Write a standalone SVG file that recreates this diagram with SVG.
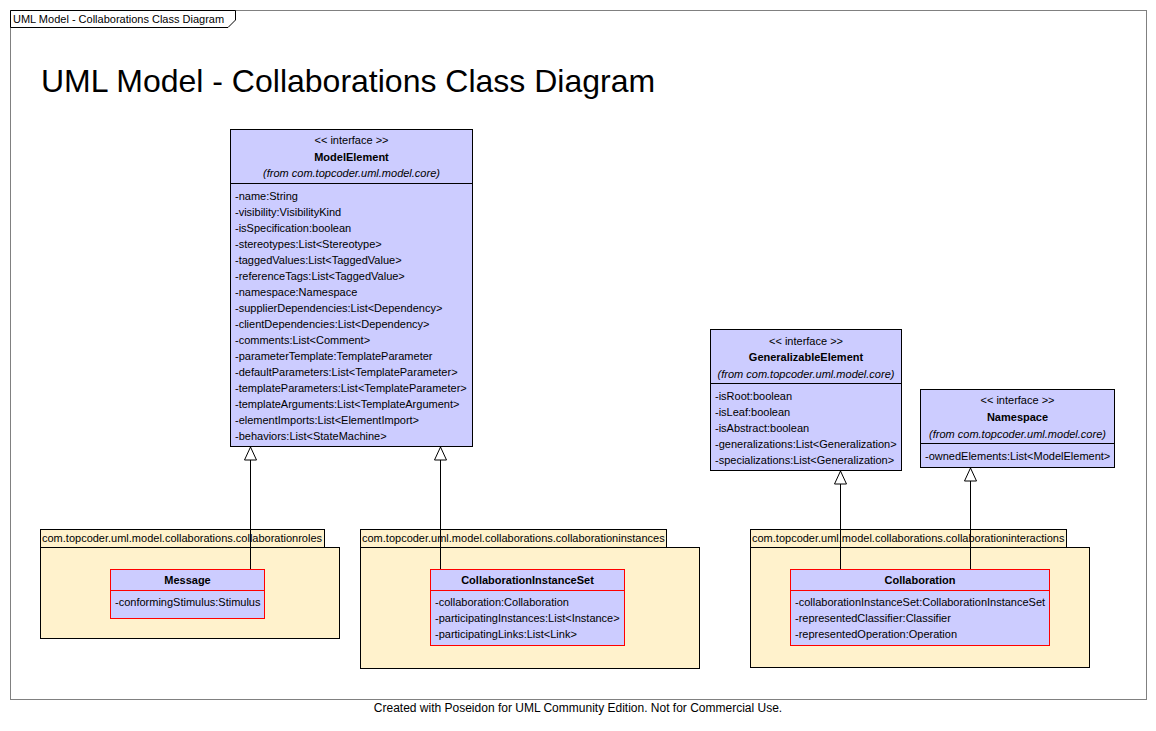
<svg xmlns="http://www.w3.org/2000/svg" width="1156" height="731" viewBox="0 0 1156 731">
<style>
text{font-family:"Liberation Sans",Arial,sans-serif;font-size:11px;fill:#000}
.cls{fill:#ccccff;stroke:#000;stroke-width:1}
.ncls{fill:#ccccff;stroke:#ff0000;stroke-width:1}
.sep{stroke:#000;stroke-width:1}
.nsep{stroke:#ff0000;stroke-width:1}
.pkg{fill:#fff2cc;stroke:#000;stroke-width:1}
.c{text-anchor:middle}
.b{font-weight:bold}
.i{font-style:italic}
.conn{stroke:#000;stroke-width:1;fill:none;marker-end:url(#gen)}
</style>
<defs>
<marker id="gen" markerUnits="userSpaceOnUse" viewBox="0 0 14 13" markerWidth="14" markerHeight="13" refX="13.5" refY="6.5" orient="auto">
<path d="M0.5,0.5 L13.5,6.5 L0.5,12.5 Z" fill="#fff" stroke="#000" stroke-width="1"/>
</marker>
</defs>
<rect width="1156" height="731" fill="#fff"/>
<g id="frame">
<rect x="10.5" y="10.5" width="1136" height="689" fill="none" stroke="#808080" stroke-width="1"/>
<path d="M10.5,10.5 H235.5 V20 L228,27.5 H10.5 Z" fill="#fff" stroke="#000" stroke-width="1"/>
<text x="13" y="23" style="font-size:11px">UML Model - Collaborations Class Diagram</text>
</g>
<text id="title" x="41" y="92" style="font-size:32px">UML Model - Collaborations Class Diagram</text>

<g id="pkg-roles">
<rect class="pkg" x="40.5" y="529.5" width="284" height="18"/>
<rect class="pkg" x="40.5" y="547.5" width="299" height="91"/>
<text x="42" y="542">com.topcoder.uml.model.collaborations.collaborationroles</text>
</g>
<g id="pkg-instances">
<rect class="pkg" x="360.5" y="529.5" width="306" height="18"/>
<rect class="pkg" x="360.5" y="547.5" width="339" height="121"/>
<text x="362" y="542">com.topcoder.uml.model.collaborations.collaborationinstances</text>
</g>
<g id="pkg-interactions">
<rect class="pkg" x="750.5" y="529.5" width="316" height="18"/>
<rect class="pkg" x="750.5" y="547.5" width="339" height="120"/>
<text x="752" y="542">com.topcoder.uml.model.collaborations.collaborationinteractions</text>
</g>

<g id="connectors">
<line class="conn" x1="250.5" y1="569" x2="250.5" y2="447"/>
<line class="conn" x1="440.5" y1="569" x2="440.5" y2="447"/>
<line class="conn" x1="840.5" y1="569" x2="840.5" y2="471"/>
<line class="conn" x1="970.5" y1="569" x2="970.5" y2="468"/>
</g>

<g id="ModelElement">
<rect class="cls" x="230.5" y="129.5" width="242" height="317"/>
<line class="sep" x1="230.5" y1="183.5" x2="472.5" y2="183.5"/>
<text class="c" x="351.5" y="144">&lt;&lt; interface &gt;&gt;</text>
<text class="c b" x="351.5" y="161">ModelElement</text>
<text class="c i" x="351.5" y="177">(from com.topcoder.uml.model.core)</text>
<text x="235" y="200">-name:String</text>
<text x="235" y="216">-visibility:VisibilityKind</text>
<text x="235" y="232">-isSpecification:boolean</text>
<text x="235" y="248">-stereotypes:List&lt;Stereotype&gt;</text>
<text x="235" y="264">-taggedValues:List&lt;TaggedValue&gt;</text>
<text x="235" y="280">-referenceTags:List&lt;TaggedValue&gt;</text>
<text x="235" y="296">-namespace:Namespace</text>
<text x="235" y="312">-supplierDependencies:List&lt;Dependency&gt;</text>
<text x="235" y="328">-clientDependencies:List&lt;Dependency&gt;</text>
<text x="235" y="344">-comments:List&lt;Comment&gt;</text>
<text x="235" y="360">-parameterTemplate:TemplateParameter</text>
<text x="235" y="376">-defaultParameters:List&lt;TemplateParameter&gt;</text>
<text x="235" y="392">-templateParameters:List&lt;TemplateParameter&gt;</text>
<text x="235" y="408">-templateArguments:List&lt;TemplateArgument&gt;</text>
<text x="235" y="424">-elementImports:List&lt;ElementImport&gt;</text>
<text x="235" y="440">-behaviors:List&lt;StateMachine&gt;</text>
</g>

<g id="GeneralizableElement">
<rect class="cls" x="710.5" y="329.5" width="191" height="141"/>
<line class="sep" x1="710.5" y1="383.5" x2="901.5" y2="383.5"/>
<text class="c" x="806" y="345">&lt;&lt; interface &gt;&gt;</text>
<text class="c b" x="806" y="361">GeneralizableElement</text>
<text class="c i" x="806" y="378">(from com.topcoder.uml.model.core)</text>
<text x="715" y="400">-isRoot:boolean</text>
<text x="715" y="416">-isLeaf:boolean</text>
<text x="715" y="432">-isAbstract:boolean</text>
<text x="715" y="448">-generalizations:List&lt;Generalization&gt;</text>
<text x="715" y="464">-specializations:List&lt;Generalization&gt;</text>
</g>

<g id="Namespace">
<rect class="cls" x="920.5" y="389.5" width="194" height="78"/>
<line class="sep" x1="920.5" y1="443.5" x2="1114.5" y2="443.5"/>
<text class="c" x="1017.5" y="404">&lt;&lt; interface &gt;&gt;</text>
<text class="c b" x="1017.5" y="421">Namespace</text>
<text class="c i" x="1017.5" y="438">(from com.topcoder.uml.model.core)</text>
<text x="925" y="460">-ownedElements:List&lt;ModelElement&gt;</text>
</g>

<g id="Message">
<rect class="ncls" x="110.5" y="569.5" width="154" height="49"/>
<line class="nsep" x1="110.5" y1="590.5" x2="264.5" y2="590.5"/>
<text class="c b" x="187.5" y="584">Message</text>
<text x="115" y="606">-conformingStimulus:Stimulus</text>
</g>

<g id="CollaborationInstanceSet">
<rect class="ncls" x="430.5" y="569.5" width="194" height="76"/>
<line class="nsep" x1="430.5" y1="590.5" x2="624.5" y2="590.5"/>
<text class="c b" x="527.5" y="584">CollaborationInstanceSet</text>
<text x="435" y="606">-collaboration:Collaboration</text>
<text x="435" y="622">-participatingInstances:List&lt;Instance&gt;</text>
<text x="435" y="638">-participatingLinks:List&lt;Link&gt;</text>
</g>

<g id="Collaboration">
<rect class="ncls" x="790.5" y="569.5" width="259" height="76"/>
<line class="nsep" x1="790.5" y1="590.5" x2="1049.5" y2="590.5"/>
<text class="c b" x="920" y="584">Collaboration</text>
<text x="795" y="606">-collaborationInstanceSet:CollaborationInstanceSet</text>
<text x="795" y="622">-representedClassifier:Classifier</text>
<text x="795" y="638">-representedOperation:Operation</text>
</g>

<text id="footer" class="c" x="578" y="712" style="font-size:12px">Created with Poseidon for UML Community Edition. Not for Commercial Use.</text>
</svg>
